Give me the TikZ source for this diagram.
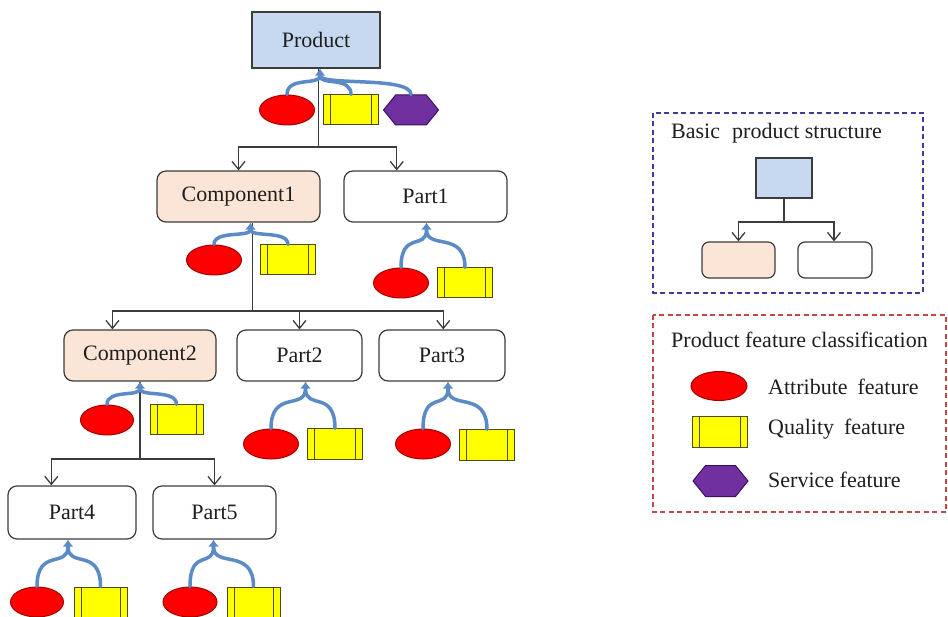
\documentclass[tikz,border=0pt]{standalone}
\usepackage{fontspec}
\setmainfont{Liberation Serif}
\newfontfamily\diagfont{Liberation Serif}
\usetikzlibrary{arrows.meta,calc,shapes.geometric,shapes.symbols}

\definecolor{edgegray}{HTML}{3C3C3C}
\definecolor{prodblue}{HTML}{C6D9F1}
\definecolor{comppeach}{HTML}{FBE5D6}
\definecolor{linkblue}{HTML}{5A8BC6}
\definecolor{attrred}{HTML}{FF0000}
\definecolor{attredge}{HTML}{A00000}
\definecolor{qualyellow}{HTML}{FFFF00}
\definecolor{qualedge}{HTML}{4A4A20}
\definecolor{servpurple}{HTML}{7030A0}
\definecolor{servedge}{HTML}{3A1060}
\definecolor{legblue}{HTML}{3C3C9A}
\definecolor{legred}{HTML}{C04848}
\definecolor{inkcol}{HTML}{1E1E1E}

\tikzset{
  label font/.style={font=\diagfont\fontsize{22}{26}\selectfont, text=inkcol},
  prodbox/.style={draw=edgegray, line width=1.2pt, fill=prodblue, inner sep=0pt, label font},
  compbox/.style={draw=edgegray, line width=1.2pt, fill=comppeach, rounded corners=9pt, inner sep=0pt, label font},
  partbox/.style={draw=edgegray, line width=1.2pt, fill=white, rounded corners=9pt, inner sep=0pt, label font},
  attrfeat/.style={ellipse, draw=attredge, line width=1pt, fill=attrred, minimum width=55pt, minimum height=30pt, inner sep=0pt},
  qualfeat/.style={rectangle, draw=qualedge, line width=1pt, fill=qualyellow, minimum width=55pt, minimum height=30pt, inner sep=0pt,
    path picture={
      \draw[qualedge, line width=1pt]
        ([xshift=7pt]path picture bounding box.north west) -- ([xshift=7pt]path picture bounding box.south west)
        ([xshift=-7pt]path picture bounding box.north east) -- ([xshift=-7pt]path picture bounding box.south east);
    }},
  servfeat/.style={signal, signal to=west and east, signal pointer angle=102, draw=servedge, line width=1pt, fill=servpurple, minimum width=55pt, minimum height=30pt, inner sep=0pt},
  treeline/.style={draw=edgegray, line width=1.4pt},
  treearrow/.style={treeline, -{Straight Barb[length=8pt,width=13pt,line width=1.3pt]}},
  featline/.style={draw=linkblue, line width=3.5pt, line cap=round},
  feathead/.style={draw=linkblue, line width=3.5pt, -{Latex[length=7pt,width=11pt]}},
  legtext/.style={label font, anchor=west, inner sep=0pt},
}

% curved feature link from the apex below a node down to a feature shape
\newcommand\featlink[2]{%
  \draw[featline] let \p1=(#1), \p2=(#2) in
    (\p1) .. controls (\x1,{\y1+0.55*(\y2-\y1)}) and (\x2,{\y1+0.02*(\y2-\y1)}) .. (\p2);}
% short arrow stem pointing up into the node
\newcommand\featapex[1]{%
  \draw[feathead] ($(#1)+(0,9)$) -- (#1);}

\begin{document}
\begin{tikzpicture}[x=1pt,y=-1pt]
\useasboundingbox (0,0) rectangle (948,617);

% ---------- product tree ----------
\node[prodbox, minimum width=128pt, minimum height=56pt] (product) at (316,40) {Product};
\node[compbox, minimum width=163pt, minimum height=51pt] (comp1) at (238.5,196.5) {Component1};
\node[partbox, minimum width=163pt, minimum height=51pt] (part1) at (425.5,196.5) {Part1};
\node[compbox, minimum width=152pt, minimum height=51pt] (comp2) at (140,355.5) {Component2};
\node[partbox, minimum width=125pt, minimum height=51pt] (part2) at (299.5,355.5) {Part2};
\node[partbox, minimum width=126pt, minimum height=51pt] (part3) at (442,355.5) {Part3};
\node[partbox, minimum width=128pt, minimum height=53pt] (part4) at (72,512.5) {Part4};
\node[partbox, minimum width=123pt, minimum height=53pt] (part5) at (214.5,512.5) {Part5};

% feature shapes
\node[attrfeat] (pa) at (287,110) {};
\node[qualfeat] (pq) at (351,110) {};
\node[servfeat] (ps) at (411,110) {};

\node[attrfeat] (c1a) at (214,260) {};
\node[qualfeat] (c1q) at (288,260) {};

\node[attrfeat] (p1a) at (401,283) {};
\node[qualfeat] (p1q) at (465,283) {};

\node[attrfeat, minimum width=53pt] (c2a) at (107,420) {};
\node[qualfeat, minimum width=53pt] (c2q) at (176.5,420) {};

\node[attrfeat] (p2a) at (271,444) {};
\node[qualfeat] (p2q) at (335,444) {};

\node[attrfeat] (p3a) at (423,444) {};
\node[qualfeat] (p3q) at (487,445) {};

\node[attrfeat, minimum width=53pt] (p4a) at (37,602) {};
\node[qualfeat, minimum width=53pt] (p4q) at (100.5,602) {};

\node[attrfeat, minimum width=54pt] (p5a) at (190,602) {};
\node[qualfeat, minimum width=53pt] (p5q) at (253.5,602) {};

% tree connectors
\coordinate (bus1) at (0,147);
\coordinate (bus2) at (0,311);
\coordinate (bus3) at (0,459);
\coordinate (prodout) at ($(product.south west)!0.52!(product.south east)$);
\coordinate (comp1out) at ($(comp1.south west)!0.585!(comp1.south east)$);
\coordinate (comp2out) at (comp2.south);
\coordinate (comp1in) at (comp1.north);
\coordinate (part1in) at ($(part1.north west)!0.325!(part1.north east)$);
\coordinate (comp2in) at ($(comp2.north west)!0.32!(comp2.north east)$);
\coordinate (part2in) at (part2.north);
\coordinate (part3in) at ($(part3.north west)!0.51!(part3.north east)$);
\coordinate (part4in) at ($(part4.north west)!0.34!(part4.north east)$);
\coordinate (part5in) at (part5.north);

\draw[treeline] (prodout) -- (prodout |- bus1);
\draw[treearrow] (prodout |- bus1) -| (comp1in);
\draw[treearrow] (prodout |- bus1) -| (part1in);

\draw[treeline] (comp1out) -- (comp1out |- bus2);
\draw[treearrow] (comp1out |- bus2) -| (comp2in);
\draw[treearrow] (comp1out |- bus2) -| (part2in);
\draw[treearrow] (comp1out |- bus2) -| (part3in);

\draw[treeline] (comp2out) -- (comp2out |- bus3);
\draw[treearrow] (comp2out |- bus3) -| (part4in);
\draw[treearrow] (comp2out |- bus3) -| (part5in);

% feature links
\coordinate (prodapex) at ($(product.south)+(4,0)$);
\coordinate (comp1apex) at ($(comp1.south)+(12,0)$);
\coordinate (part1apex) at ($(part1.south)+(1,0)$);
\coordinate (comp2apex) at (comp2.south);
\coordinate (part2apex) at ($(part2.south)+(6,0)$);
\coordinate (part3apex) at ($(part3.south)+(6,0)$);
\coordinate (part4apex) at ($(part4.south)+(-4,0)$);
\coordinate (part5apex) at ($(part5.south)+(-1,0)$);

\foreach \ap/\fa/\fb in {prodapex/pa/pq, comp1apex/c1a/c1q, part1apex/p1a/p1q, comp2apex/c2a/c2q,
                          part2apex/p2a/p2q, part3apex/p3a/p3q, part4apex/p4a/p4q, part5apex/p5a/p5q}{
  \featlink{$(\ap)+(0,7)$}{\fa.north}
  \featlink{$(\ap)+(0,7)$}{\fb.north}
  \featapex{\ap}
}
\featlink{$(prodapex)+(0,7)$}{ps.north}

% ---------- legend: basic structure ----------
\draw[legblue, line width=1.2pt, dash pattern=on 5pt off 3.5pt] (653,113) rectangle (923,293);
\node[legtext] (basictitle) at (671,133) {Basic\hspace{0.3em} product structure};
\node[prodbox, minimum width=56pt, minimum height=40pt] (miniprod) at (784,178) {};
\node[compbox, rounded corners=7pt, minimum width=73pt, minimum height=36pt] (minicomp) at (738.5,260) {};
\node[partbox, rounded corners=7pt, minimum width=74pt, minimum height=36pt] (minipart) at (835,260) {};
\coordinate (bus4) at (0,222);
\draw[treeline] (miniprod.south) -- (miniprod.south |- bus4);
\draw[treearrow] (miniprod.south |- bus4) -| (minicomp.north);
\draw[treearrow] (miniprod.south |- bus4) -| ($(minipart.north)+(-1,0)$);

% ---------- legend: feature classes ----------
\draw[legred, line width=1.2pt, dash pattern=on 5pt off 3.5pt] (653,315) rectangle (946,512);
\node[legtext] (classtitle) at (671,340) {Product feature classification};
\node[attrfeat, minimum width=56pt, minimum height=29pt] (legattr) at (719,386) {};
\node[qualfeat, minimum width=55pt, minimum height=31pt] (legqual) at (719.5,432) {};
\node[servfeat, minimum width=55pt, minimum height=31pt] (legserv) at (720.5,481) {};
\node[legtext] (attrtext) at (768,387) {Attribute\hspace{0.2em} feature};
\node[legtext] (qualtext) at (768,429) {Quality\hspace{0.2em} feature};
\node[legtext] (servtext) at (768,480) {Service feature};

\end{tikzpicture}
\end{document}
